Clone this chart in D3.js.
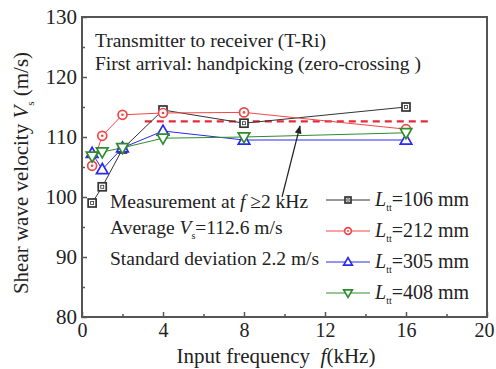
<!DOCTYPE html>
<html>
<head>
<meta charset="utf-8">
<script src="https://cdn.jsdelivr.net/npm/d3@7"></script>
</head>
<body style="margin:0; background:#fff">
<svg id="chart" width="496" height="369"></svg>
<script>
// data
var freqs = [0.5, 1, 2, 4, 8, 16];
var v106 = [99.0, 101.7, 108.0, 114.5, 112.3, 115.0];
var v212 = [105.2, 110.2, 113.7, 114.0, 114.1, 111.3];
var v305 = [107.3, 104.6, 108.2, 111.0, 109.5, 109.5];
var v408 = [106.8, 107.5, 108.2, 109.8, 110.0, 110.7];
var seriesNames = ["106", "212", "305", "408"];
var xTicks = [0, 4, 8, 12, 16, 20];
var yTicks = [80, 90, 100, 110, 120, 130];
var avgVs = 112.6;
var avgRange = [3.1, 17.3];

var series = [
    { name: seriesNames[0], values: v106, color: "#333333", marker: "square" },
    { name: seriesNames[1], values: v212, color: "#f04848", marker: "circle" },
    { name: seriesNames[2], values: v305, color: "#2a2aee", marker: "up" },
    { name: seriesNames[3], values: v408, color: "#2e8b2e", marker: "down" }
];

var FONT = "'Liberation Serif'";

var margin = { top: 17, right: 9, bottom: 52, left: 82 };
var width = 496 - margin.left - margin.right;
var height = 369 - margin.top - margin.bottom;

var svg = d3.select("#chart");
var g = svg.append("g")
    .attr("transform", "translate(" + margin.left + "," + margin.top + ")");

var x = d3.scaleLinear().domain([0, 20]).range([0, width]);
var y = d3.scaleLinear().domain([80, 130]).range([height, 0]);

// axes with ticks pointing inward
var xAxis = d3.axisBottom(x).tickValues(xTicks).tickSize(-5).tickPadding(6);
var yAxis = d3.axisLeft(y).tickValues(yTicks).tickSize(-5).tickPadding(5);
var xMinor = d3.axisBottom(x).tickValues(d3.range(2, 20, 4)).tickSize(-3).tickFormat("");
var yMinor = d3.axisLeft(y).tickValues(d3.range(85, 130, 10)).tickSize(-3).tickFormat("");

var gx = g.append("g").attr("transform", "translate(0," + height + ")").call(xAxis);
var gy = g.append("g").call(yAxis);
g.append("g").attr("transform", "translate(0," + height + ")").call(xMinor);
g.append("g").call(yMinor);

g.selectAll(".domain").remove();
g.selectAll(".tick line").attr("stroke", "#555").attr("stroke-width", 1.5);
// d3 axis sets font-family on the group; override it there
gx.attr("font-family", FONT).attr("font-size", 20);
gy.attr("font-family", FONT).attr("font-size", 21);
g.selectAll(".tick text").attr("fill", "#222");
// keep the last x label inside the window
gx.selectAll(".tick text").filter(function (d) { return d === 20; }).attr("dx", -3);

// frame
g.append("rect")
    .attr("width", width).attr("height", height)
    .attr("fill", "none").attr("stroke", "#555").attr("stroke-width", 2);

// average line
g.append("line")
    .attr("x1", x(avgRange[0])).attr("x2", x(avgRange[1]))
    .attr("y1", y(avgVs)).attr("y2", y(avgVs))
    .attr("stroke", "#e8283a").attr("stroke-width", 2.2)
    .attr("stroke-dasharray", "7,5");

// series lines
var line = d3.line()
    .x(function (d, i) { return x(freqs[i]); })
    .y(function (d) { return y(d); });

series.forEach(function (s) {
    g.append("path")
        .datum(s.values)
        .attr("d", line)
        .attr("fill", "none")
        .attr("stroke", s.color)
        .attr("stroke-width", 1);
});

function drawMarker(sel, type, color, cx, cy, k) {
    k = k || 1;
    if (type === "square") {
        sel.append("rect").attr("x", cx - 4 * k).attr("y", cy - 4 * k).attr("width", 8 * k).attr("height", 8 * k)
            .attr("fill", "#fff").attr("stroke", color).attr("stroke-width", 1.7);
        sel.append("rect").attr("x", cx - 1.5 * k).attr("y", cy - 1.5 * k).attr("width", 3 * k).attr("height", 3 * k)
            .attr("fill", "none").attr("stroke", color).attr("stroke-width", 0.8);
    } else if (type === "circle") {
        sel.append("circle").attr("cx", cx).attr("cy", cy).attr("r", 4.5 * k)
            .attr("fill", "#fff").attr("stroke", color).attr("stroke-width", 1.7);
        sel.append("circle").attr("cx", cx).attr("cy", cy).attr("r", 1.3 * k).attr("fill", color);
    } else {
        var sym = d3.symbol().type(d3.symbolTriangle).size(58 * k * k);
        sel.append("path").attr("d", sym)
            .attr("transform", "translate(" + cx + "," + (type === "up" ? cy + 0.8 * k : cy - 0.8 * k) + ")" + (type === "down" ? " rotate(180)" : ""))
            .attr("fill", "#fff").attr("stroke", color).attr("stroke-width", 1.7);
    }
}

series.forEach(function (s) {
    var mg = g.append("g");
    s.values.forEach(function (v, i) {
        drawMarker(mg, s.marker, s.color, x(freqs[i]), y(v));
    });
});

// annotations
function label(px, py, size) {
    return g.append("text").attr("x", px).attr("y", py)
        .attr("fill", "#222")
        .style("font-family", FONT).style("font-size", (size || 19.5) + "px");
}
label(13, 29.5).text("Transmitter to receiver (T-Ri)");
label(13, 53).text("First arrival: handpicking (zero-crossing )");

var m1 = label(28, 191);
m1.append("tspan").text("Measurement at ");
m1.append("tspan").style("font-style", "italic").text("f");
m1.append("tspan").text(" \u22652 kHz");

var m2 = label(28, 217);
m2.append("tspan").text("Average ");
m2.append("tspan").style("font-style", "italic").text("V");
m2.append("tspan").attr("dy", 5).style("font-size", "10px").text("s");
m2.append("tspan").attr("dy", -5).text("=112.6 m/s");

label(28, 248).text("Standard deviation 2.2 m/s");

// arrow
svg.append("defs").append("marker")
    .attr("id", "arrowhead").attr("viewBox", "0 0 10 10")
    .attr("refX", 9).attr("refY", 5)
    .attr("markerWidth", 7).attr("markerHeight", 7)
    .attr("orient", "auto")
    .append("path").attr("d", "M0,1 L10,5 L0,9 Z").attr("fill", "#222");

g.append("line")
    .attr("x1", 200).attr("y1", 180)
    .attr("x2", 218).attr("y2", 109)
    .attr("stroke", "#222").attr("stroke-width", 1.2)
    .attr("marker-end", "url(#arrowhead)");

// legend
var legend = g.append("g").attr("transform", "translate(244,183)");
series.forEach(function (s, i) {
    var row = legend.append("g").attr("transform", "translate(0," + (i * 31) + ")");
    row.append("line").attr("x1", 0).attr("x2", 44).attr("y1", 0).attr("y2", 0)
        .attr("stroke", s.color).attr("stroke-width", 1);
    drawMarker(row, s.marker, s.color, 22, 0, 0.75);
    var t = row.append("text").attr("x", 49).attr("y", 6).attr("fill", "#222")
        .style("font-family", FONT).style("font-size", "20px");
    t.append("tspan").style("font-style", "italic").text("L");
    t.append("tspan").attr("dy", 5).style("font-size", "10px").text("tt");
    t.append("tspan").attr("dy", -5).text("=" + s.name + " mm");
});

// axis titles
var xt = svg.append("text")
    .attr("x", 276).attr("y", 363).attr("fill", "#222")
    .attr("text-anchor", "middle").style("font-family", FONT).style("font-size", "21px");
xt.append("tspan").text("Input frequency\u00a0 ");
xt.append("tspan").style("font-style", "italic").text("f");
xt.append("tspan").text("(kHz)");

var yt = svg.append("text")
    .attr("transform", "translate(28,173) rotate(-90)")
    .attr("fill", "#222")
    .attr("text-anchor", "middle").style("font-family", FONT).style("font-size", "21px");
yt.append("tspan").text("Shear wave velocity ");
yt.append("tspan").style("font-style", "italic").text("V");
yt.append("tspan").attr("dy", 6).style("font-size", "11px").text("s");
yt.append("tspan").attr("dy", -6).text(" (m/s)");
</script>
</body>
</html>
